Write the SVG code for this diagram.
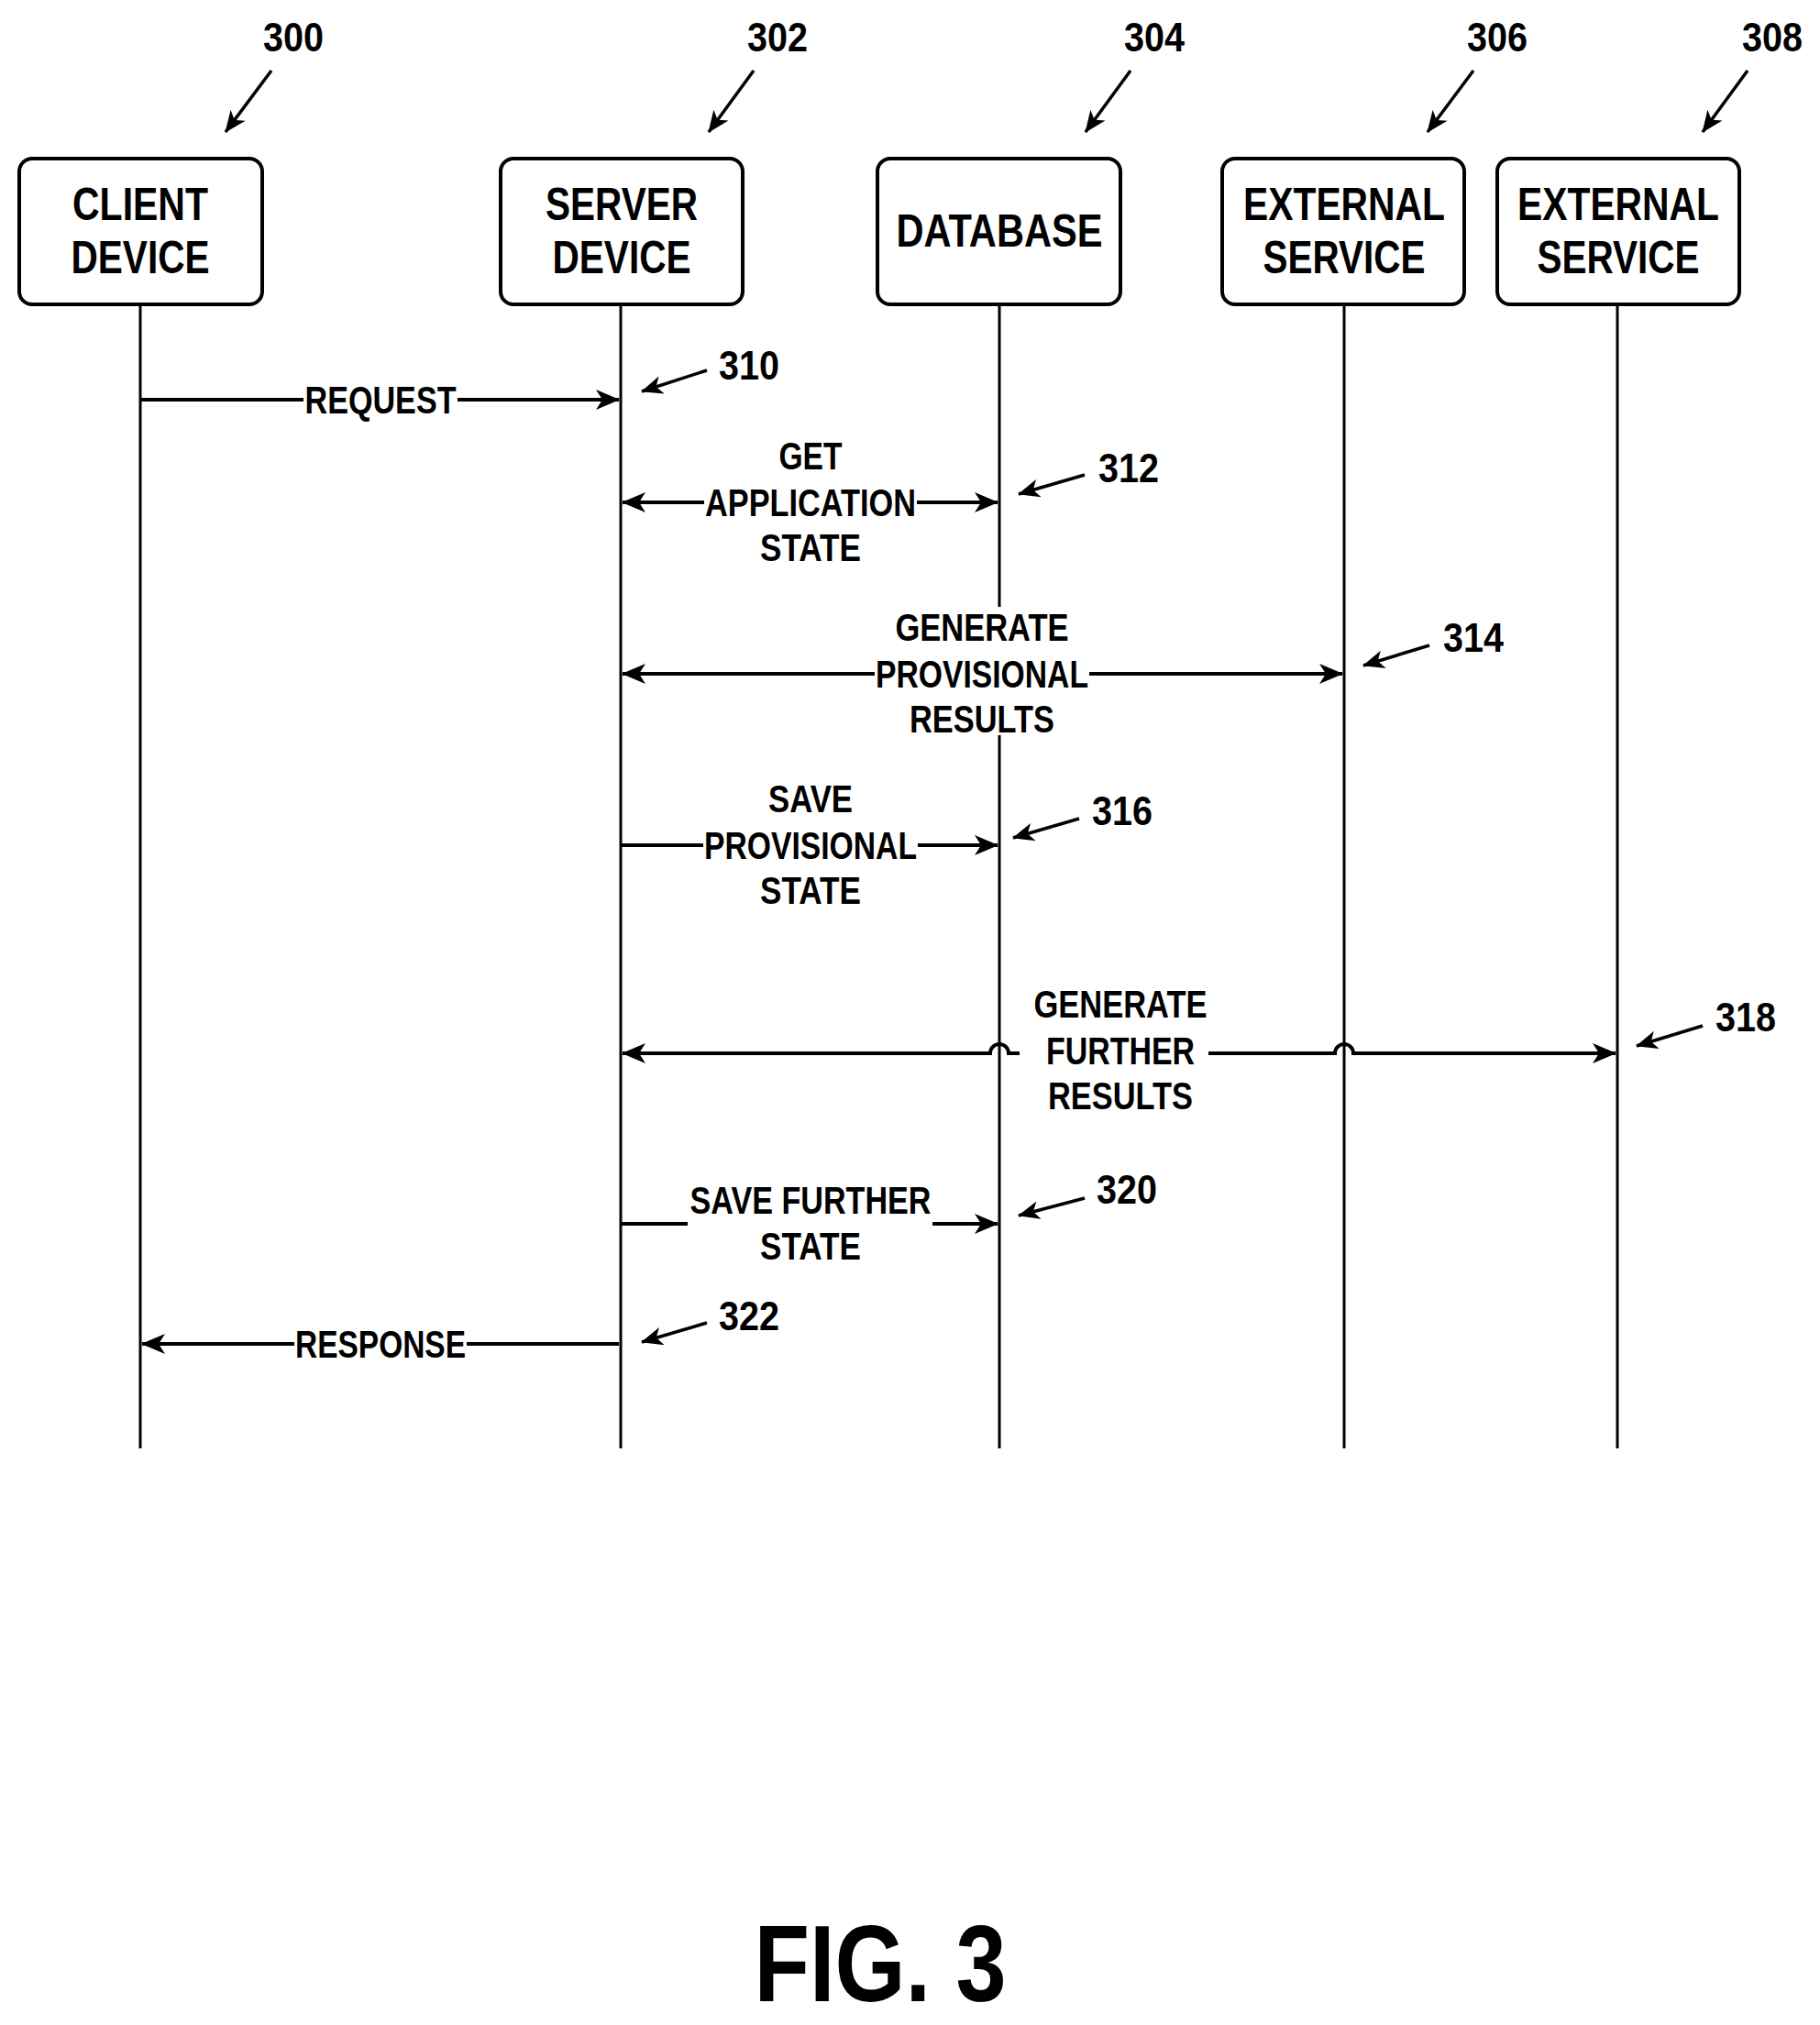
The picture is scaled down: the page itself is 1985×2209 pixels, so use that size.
<svg xmlns="http://www.w3.org/2000/svg" width="1985" height="2209" viewBox="0 0 1985 2209">
<style>
text{font-family:"Liberation Sans",Arial,sans-serif;font-weight:bold;fill:#000;text-anchor:middle}
.bx{font-size:50px}.lb{font-size:42px}.nm{font-size:44px}
.box{fill:#fff;stroke:#000;stroke-width:4}
.life{stroke:#000;stroke-width:3}
.msg{stroke:#000;stroke-width:4;fill:none}
.ref{stroke:#000;stroke-width:3.5;fill:none}
.bg{fill:#fff}
</style>
<defs>
<marker id="ah" viewBox="0 0 26 22" markerWidth="26" markerHeight="22" refX="25" refY="11" orient="auto-start-reverse" markerUnits="userSpaceOnUse">
<path d="M0,0 L26,11 L0,22 L7,11 z" fill="#000"/></marker>
<marker id="rh" viewBox="0 0 26 22" markerWidth="24" markerHeight="20" refX="25" refY="11" orient="auto" markerUnits="userSpaceOnUse">
<path d="M0,0 L26,11 L0,22 L7,11 z" fill="#000"/></marker>
</defs>
<rect width="1985" height="2209" fill="#fff"/>
<g id="lifelines">
<line class="life" x1="153" y1="332" x2="153" y2="1580"/>
<line class="life" x1="677" y1="332" x2="677" y2="1580"/>
<line class="life" x1="1090" y1="332" x2="1090" y2="1580"/>
<line class="life" x1="1466" y1="332" x2="1466" y2="1580"/>
<line class="life" x1="1764" y1="332" x2="1764" y2="1580"/>
</g>
<g id="client"><rect class="box" x="21" y="173" width="265" height="159" rx="14"/>
<text class="bx" x="153" y="240" textLength="148" lengthAdjust="spacingAndGlyphs">CLIENT</text>
<text class="bx" x="153" y="298" textLength="151" lengthAdjust="spacingAndGlyphs">DEVICE</text></g>
<g id="server"><rect class="box" x="546" y="173" width="264" height="159" rx="14"/>
<text class="bx" x="678" y="240" textLength="166" lengthAdjust="spacingAndGlyphs">SERVER</text>
<text class="bx" x="678" y="298" textLength="151" lengthAdjust="spacingAndGlyphs">DEVICE</text></g>
<g id="database"><rect class="box" x="957" y="173" width="265" height="159" rx="14"/>
<text class="bx" x="1090" y="269" textLength="225" lengthAdjust="spacingAndGlyphs">DATABASE</text></g>
<g id="ext1"><rect class="box" x="1333" y="173" width="264" height="159" rx="14"/>
<text class="bx" x="1466" y="240" textLength="220" lengthAdjust="spacingAndGlyphs">EXTERNAL</text>
<text class="bx" x="1466" y="298" textLength="177" lengthAdjust="spacingAndGlyphs">SERVICE</text></g>
<g id="ext2"><rect class="box" x="1633" y="173" width="264" height="159" rx="14"/>
<text class="bx" x="1765" y="240" textLength="220" lengthAdjust="spacingAndGlyphs">EXTERNAL</text>
<text class="bx" x="1765" y="298" textLength="177" lengthAdjust="spacingAndGlyphs">SERVICE</text></g>
<g id="refs">
<text class="nm" x="320" y="56" textLength="66" lengthAdjust="spacingAndGlyphs">300</text>
<line class="ref" x1="296" y1="77" x2="246" y2="144" marker-end="url(#rh)"/>
<text class="nm" x="848" y="56" textLength="66" lengthAdjust="spacingAndGlyphs">302</text>
<line class="ref" x1="822" y1="77" x2="773" y2="144" marker-end="url(#rh)"/>
<text class="nm" x="1259" y="56" textLength="66" lengthAdjust="spacingAndGlyphs">304</text>
<line class="ref" x1="1233" y1="77" x2="1184" y2="144" marker-end="url(#rh)"/>
<text class="nm" x="1633" y="56" textLength="66" lengthAdjust="spacingAndGlyphs">306</text>
<line class="ref" x1="1607" y1="77" x2="1557" y2="144" marker-end="url(#rh)"/>
<text class="nm" x="1933" y="56" textLength="66" lengthAdjust="spacingAndGlyphs">308</text>
<line class="ref" x1="1906" y1="77" x2="1857" y2="144" marker-end="url(#rh)"/>
<text class="nm" x="817" y="414" textLength="66" lengthAdjust="spacingAndGlyphs">310</text>
<line class="ref" x1="771" y1="404" x2="700" y2="427" marker-end="url(#rh)"/>
<text class="nm" x="1231" y="526" textLength="66" lengthAdjust="spacingAndGlyphs">312</text>
<line class="ref" x1="1183" y1="518" x2="1111" y2="539" marker-end="url(#rh)"/>
<text class="nm" x="1607" y="711" textLength="66" lengthAdjust="spacingAndGlyphs">314</text>
<line class="ref" x1="1559" y1="704" x2="1487" y2="726" marker-end="url(#rh)"/>
<text class="nm" x="1224" y="900" textLength="66" lengthAdjust="spacingAndGlyphs">316</text>
<line class="ref" x1="1177" y1="893" x2="1105" y2="914" marker-end="url(#rh)"/>
<text class="nm" x="1904" y="1125" textLength="66" lengthAdjust="spacingAndGlyphs">318</text>
<line class="ref" x1="1857" y1="1119" x2="1785" y2="1141" marker-end="url(#rh)"/>
<text class="nm" x="1229" y="1313" textLength="66" lengthAdjust="spacingAndGlyphs">320</text>
<line class="ref" x1="1183" y1="1307" x2="1111" y2="1326" marker-end="url(#rh)"/>
<text class="nm" x="817" y="1451" textLength="66" lengthAdjust="spacingAndGlyphs">322</text>
<line class="ref" x1="771" y1="1443" x2="700" y2="1464" marker-end="url(#rh)"/>
</g>
<g id="connectors">
<line class="msg" x1="153" y1="436" x2="675" y2="436" marker-end="url(#ah)"/>
<line class="msg" x1="679" y1="548" x2="1088" y2="548" marker-start="url(#ah)" marker-end="url(#ah)"/>
<line class="msg" x1="679" y1="735" x2="1464" y2="735" marker-start="url(#ah)" marker-end="url(#ah)"/>
<line class="msg" x1="677" y1="922" x2="1088" y2="922" marker-end="url(#ah)"/>
<path class="msg" d="M679,1149 L1080,1149 A10,10 0 0 1 1100,1149 L1112,1149" marker-start="url(#ah)"/>
<path class="msg" d="M1318,1149 L1456,1149 A10,10 0 0 1 1476,1149 L1762,1149" marker-end="url(#ah)"/>
<line class="msg" x1="677" y1="1335" x2="750" y2="1335"/>
<line class="msg" x1="1017" y1="1335" x2="1088" y2="1335" marker-end="url(#ah)"/>
<line class="msg" x1="675" y1="1466" x2="155" y2="1466" marker-end="url(#ah)"/>
</g>
<g id="labels">
<rect class="bg" x="331" y="418" width="168" height="36"/>
<text class="lb" x="415" y="451" textLength="165" lengthAdjust="spacingAndGlyphs">REQUEST</text>
<text class="lb" x="884" y="512" textLength="69" lengthAdjust="spacingAndGlyphs">GET</text>
<rect class="bg" x="768" y="530" width="232" height="36"/>
<text class="lb" x="884" y="563" textLength="230" lengthAdjust="spacingAndGlyphs">APPLICATION</text>
<text class="lb" x="884" y="612" textLength="110" lengthAdjust="spacingAndGlyphs">STATE</text>
<rect class="bg" x="954" y="662" width="234" height="140"/>
<text class="lb" x="1071" y="699" textLength="189" lengthAdjust="spacingAndGlyphs">GENERATE</text>
<text class="lb" x="1071" y="750" textLength="232" lengthAdjust="spacingAndGlyphs">PROVISIONAL</text>
<text class="lb" x="1071" y="799" textLength="158" lengthAdjust="spacingAndGlyphs">RESULTS</text>
<text class="lb" x="884" y="886" textLength="92" lengthAdjust="spacingAndGlyphs">SAVE</text>
<rect class="bg" x="767" y="904" width="234" height="36"/>
<text class="lb" x="884" y="937" textLength="232" lengthAdjust="spacingAndGlyphs">PROVISIONAL</text>
<text class="lb" x="884" y="986" textLength="110" lengthAdjust="spacingAndGlyphs">STATE</text>
<text class="lb" x="1222" y="1110" textLength="189" lengthAdjust="spacingAndGlyphs">GENERATE</text>
<text class="lb" x="1222" y="1161" textLength="162" lengthAdjust="spacingAndGlyphs">FURTHER</text>
<text class="lb" x="1222" y="1210" textLength="158" lengthAdjust="spacingAndGlyphs">RESULTS</text>
<text class="lb" x="884" y="1324" textLength="263" lengthAdjust="spacingAndGlyphs">SAVE FURTHER</text>
<text class="lb" x="884" y="1374" textLength="110" lengthAdjust="spacingAndGlyphs">STATE</text>
<rect class="bg" x="321" y="1448" width="188" height="36"/>
<text class="lb" x="415" y="1481" textLength="186" lengthAdjust="spacingAndGlyphs">RESPONSE</text>
</g>
<text x="960" y="2183" style="font-size:118px" textLength="275" lengthAdjust="spacingAndGlyphs">FIG. 3</text>
</svg>
